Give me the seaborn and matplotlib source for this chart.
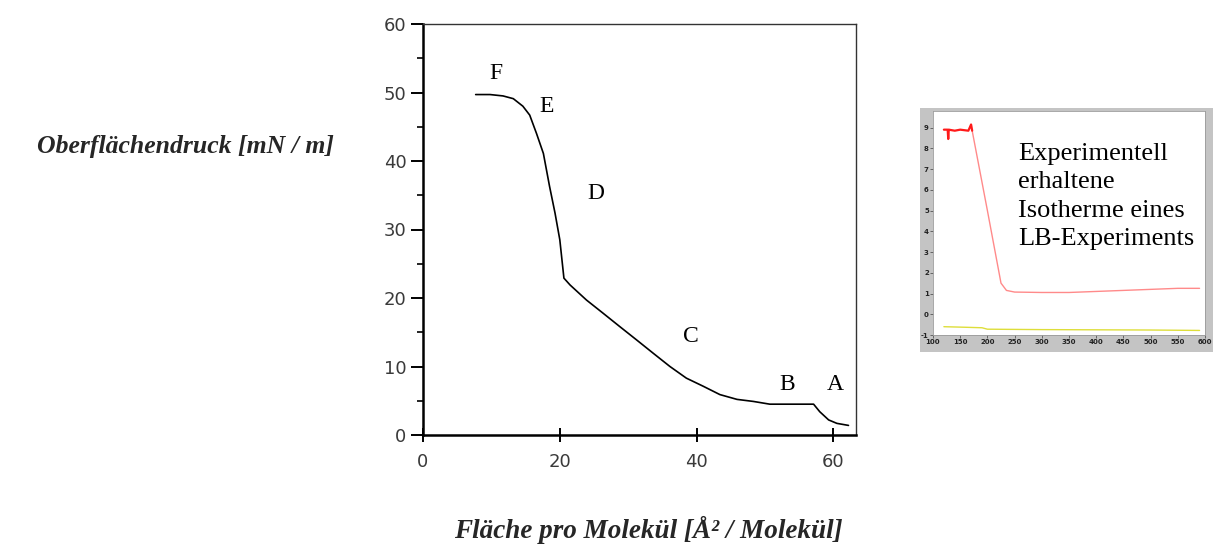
import matplotlib
matplotlib.use("Agg")
import matplotlib.pyplot as plt
from matplotlib.ticker import MultipleLocator
import seaborn as sns
import pandas as pd

# ---- main isotherm data ----
area = [7.7, 9.8, 11.7, 13.2, 14.6, 15.6, 16.6, 17.6, 18.5, 19.3, 20.0, 20.6,
        21.5, 23.9, 26.3, 28.8, 31.2, 33.7, 36.1, 38.5, 41.0, 43.4, 45.9, 48.3,
        50.7, 57.1, 58.0, 59.3, 60.5, 62.2]
pressure = [49.7, 49.7, 49.5, 49.1, 48.0, 46.7, 44.0, 41.1, 36.3, 32.4, 28.5, 22.9,
            21.9, 19.7, 17.8, 15.8, 13.9, 11.9, 10.0, 8.3, 7.1, 5.9, 5.2, 4.9,
            4.5, 4.5, 3.4, 2.2, 1.7, 1.4]
phase_labels = ["F", "E", "D", "C", "B", "A"]
phase_x = [10.7, 18.0, 25.3, 39.1, 53.2, 60.2]
phase_y = [52.8, 48.0, 35.3, 14.4, 7.3, 7.3]
x_ticks = [0, 20, 40, 60]
y_ticks = [0, 10, 20, 30, 40, 50, 60]

# ---- inset (experimental isotherm) data ----
top_x = [120, 127, 128, 129, 140, 150, 165, 170, 172]
top_y = [8.9, 8.9, 8.45, 8.9, 8.85, 8.9, 8.85, 9.15, 8.85]
red_x = [172, 200, 225, 235, 250, 300, 350, 400, 450, 500, 550, 590]
red_y = [8.85, 5.0, 1.5, 1.15, 1.07, 1.05, 1.05, 1.1, 1.15, 1.2, 1.25, 1.25]
yel_x = [120, 150, 190, 200, 300, 400, 500, 590]
yel_y = [-0.6, -0.62, -0.65, -0.72, -0.74, -0.75, -0.76, -0.78]
inset_xticks = [100, 150, 200, 250, 300, 350, 400, 450, 500, 550, 600]
inset_yticks = [-1, 0, 1, 2, 3, 4, 5, 6, 7, 8, 9]

sns.set_theme(style="white")
plt.rcParams['font.family'] = ['DejaVu Sans']
plt.rcParams['axes.unicode_minus'] = False

W, H = 1213, 545
fig = plt.figure(figsize=(W / 100, H / 100), dpi=100)

# main axes
ax = fig.add_axes([423 / W, 1 - 435 / H, (856 - 423) / W, (435 - 24) / H])
df = pd.DataFrame({"area": area, "pressure": pressure})
sns.lineplot(data=df, x="area", y="pressure", sort=False, color="black",
             linewidth=1.2, ax=ax)
ax.set_xlim(0, 63.3)
ax.set_ylim(0, 60)
ax.set_xticks(x_ticks)
ax.set_yticks(y_ticks)
ax.yaxis.set_minor_locator(MultipleLocator(5))
ax.set_xlabel("")
ax.set_ylabel("")
for s in ["left", "bottom"]:
    ax.spines[s].set_linewidth(1.8)
    ax.spines[s].set_color("black")
for s in ["top", "right"]:
    ax.spines[s].set_linewidth(1.0)
    ax.spines[s].set_color("#333333")
ax.tick_params(axis="y", which="major", direction="out", length=9, width=1.4,
               color="black", left=True, labelsize=13, labelcolor="#3a3a3a", pad=3)
ax.tick_params(axis="y", which="minor", direction="out", length=4, width=1.2,
               color="black", left=True)
ax.tick_params(axis="x", which="major", direction="inout", length=10, width=1.4,
               color="black", bottom=True, labelsize=13, labelcolor="#3a3a3a", pad=8)
for lab, px, py in zip(phase_labels, phase_x, phase_y):
    ax.text(px, py, lab, family="Liberation Serif", fontsize=17, ha="center",
            va="center", color="black")

# axis labels as figure text
fig.text(37 / W, 1 - 146 / H, "Oberflächendruck [mN / m]", family="Liberation Serif",
         fontsize=18.5, fontweight="bold", fontstyle="italic", ha="left", va="center")
fig.text(648 / W, 1 - 538 / H, "Fläche pro Molekül [Å² / Molekül]", family="Liberation Serif",
         fontsize=19.5, fontweight="bold", fontstyle="italic", ha="center", va="baseline")

# inset gray frame (background axes)
bg = fig.add_axes([920 / W, 1 - 352 / H, (W - 920) / W, (352 - 108) / H])
bg.set_facecolor("#c4c4c4")
bg.set_xticks([])
bg.set_yticks([])
for s in bg.spines.values():
    s.set_visible(False)
bg.set_zorder(0)

ins = fig.add_axes([933 / W, 1 - 335 / H, (1205 - 933) / W, (335 - 111) / H])
ins.set_zorder(1)
ins.set_facecolor("white")
sns.lineplot(x=red_x, y=red_y, sort=False, color="#ff8a8a", linewidth=1.0, ax=ins)
sns.lineplot(x=top_x, y=top_y, sort=False, color="#ff1a1a", linewidth=1.6, ax=ins)
sns.lineplot(x=yel_x, y=yel_y, sort=False, color="#dede3a", linewidth=1.0, ax=ins)
ins.set_xlim(100, 600)
ins.set_ylim(-1, 9.8)
ins.set_xticks(inset_xticks)
ins.set_yticks(inset_yticks)
for s in ins.spines.values():
    s.set_linewidth(0.6)
    s.set_color("#9a9a9a")
ins.tick_params(axis="both", direction="out", length=2, width=0.6, color="#555555",
                labelsize=5.0, labelcolor="#222222", pad=1, left=True, bottom=True)
for t in ins.get_xticklabels() + ins.get_yticklabels():
    t.set_fontweight("bold")
fig.text(1018 / W, 1 - 143 / H, "Experimentell\nerhaltene\nIsotherme eines\nLB-Experiments",
         family="Liberation Serif", fontsize=19, ha="left", va="top",
         linespacing=1.38, color="black", zorder=5)

fig.savefig("out.png", dpi=100, facecolor="white")
